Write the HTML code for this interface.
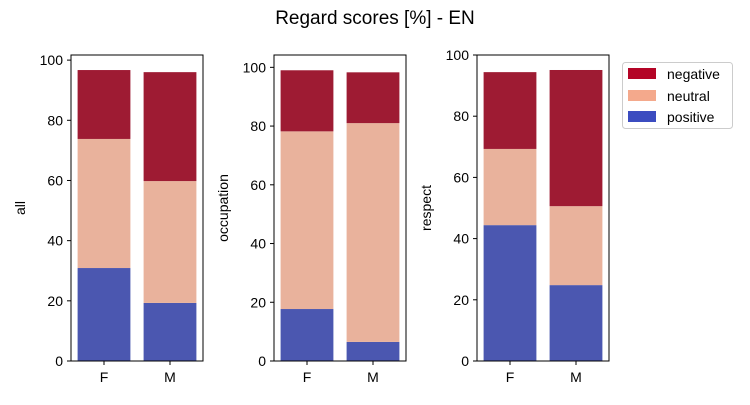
<!DOCTYPE html>
<html><head><meta charset="utf-8"><style>
body{margin:0;background:#fff;font-family:"Liberation Sans","DejaVu Sans",sans-serif}
</style></head><body>
<svg id="chart" width="750" height="400" xmlns="http://www.w3.org/2000/svg" font-family="Liberation Sans, DejaVu Sans, sans-serif">
<text x="375" y="24" text-anchor="middle" font-size="19">Regard scores [%] - EN</text>
<g id="panels"></g>
<g>
<rect x="622.5" y="62.5" width="110" height="66" rx="3" fill="#fff" stroke="#ccc"/>
<rect x="628" y="68" width="28" height="11" fill="#b40426"/>
<text x="667" y="79" font-size="14">negative</text>
<rect x="628" y="90" width="28" height="11" fill="#f4a98c"/>
<text x="667" y="101" font-size="14">neutral</text>
<rect x="628" y="111" width="28" height="11" fill="#3b4cc0"/>
<text x="667" y="122" font-size="14">positive</text>
</g>
</svg>
<script>
const categories = ["F","M"];
const panelNames = ["all","occupation","respect"];
const positive = [[30.9,19.3],[17.7,6.5],[44.4,24.8]];
const neutral = [[42.9,40.5],[60.5,74.5],[24.9,25.8]];
const negative = [[22.9,36.2],[20.8,17.3],[25.1,44.5]];
const yMaxes = [101.7,104.2,100];
const yTicks = [0,20,40,60,80,100];
const NS="http://www.w3.org/2000/svg";
const g=document.getElementById("panels");
const colors={positive:"#4b57b0",neutral:"#e9b29c",negative:"#9e1b33"};
const lefts=[71,274,477], W=132, axTop=55, axBottom=361;
function mk(t,a,parent){const e=document.createElementNS(NS,t);for(const k in a)e.setAttribute(k,a[k]);(parent||g).appendChild(e);return e;}
panelNames.forEach((name,p)=>{
  const L=lefts[p];
  const y=v=>axBottom-(v/yMaxes[p])*(axBottom-axTop);
  const x=i=>L+(i+0.5)*W/2;
  const bw=0.8*W/2;
  categories.forEach((c,i)=>{
    let base=0;
    [["positive",positive],["neutral",neutral],["negative",negative]].forEach(([s,arr])=>{
      const v=arr[p][i];
      const r=mk("rect",{x:x(i)-bw/2,y:y(base+v),width:bw,height:y(base)-y(base+v),fill:colors[s]});
      
      
      base+=v;
    });
    mk("line",{x1:x(i),x2:x(i),y1:axBottom,y2:axBottom+4,stroke:"#000"});
    const t=mk("text",{x:x(i),y:axBottom+21,"text-anchor":"middle","font-size":"14"});
    t.textContent=c;
    
    
  });
  yTicks.forEach(v=>{
    if(v>yMaxes[p])return;
    mk("line",{x1:L-4,x2:L,y1:y(v),y2:y(v),stroke:"#000"});
    const t=mk("text",{x:L-8,y:y(v)+5,"text-anchor":"end","font-size":"14"});
    t.textContent=v;
    
    
  });
  const fr=mk("rect",{x:L,y:axTop,width:W,height:axBottom-axTop,fill:"none",stroke:"#000","stroke-width":1});
  
  
  const yl=mk("text",{x:0,y:0,"text-anchor":"middle","font-size":"14",transform:`translate(${L-46},${(axTop+axBottom)/2}) rotate(-90)`});
  yl.textContent=name;
  
  
});
</script>
</body></html>
